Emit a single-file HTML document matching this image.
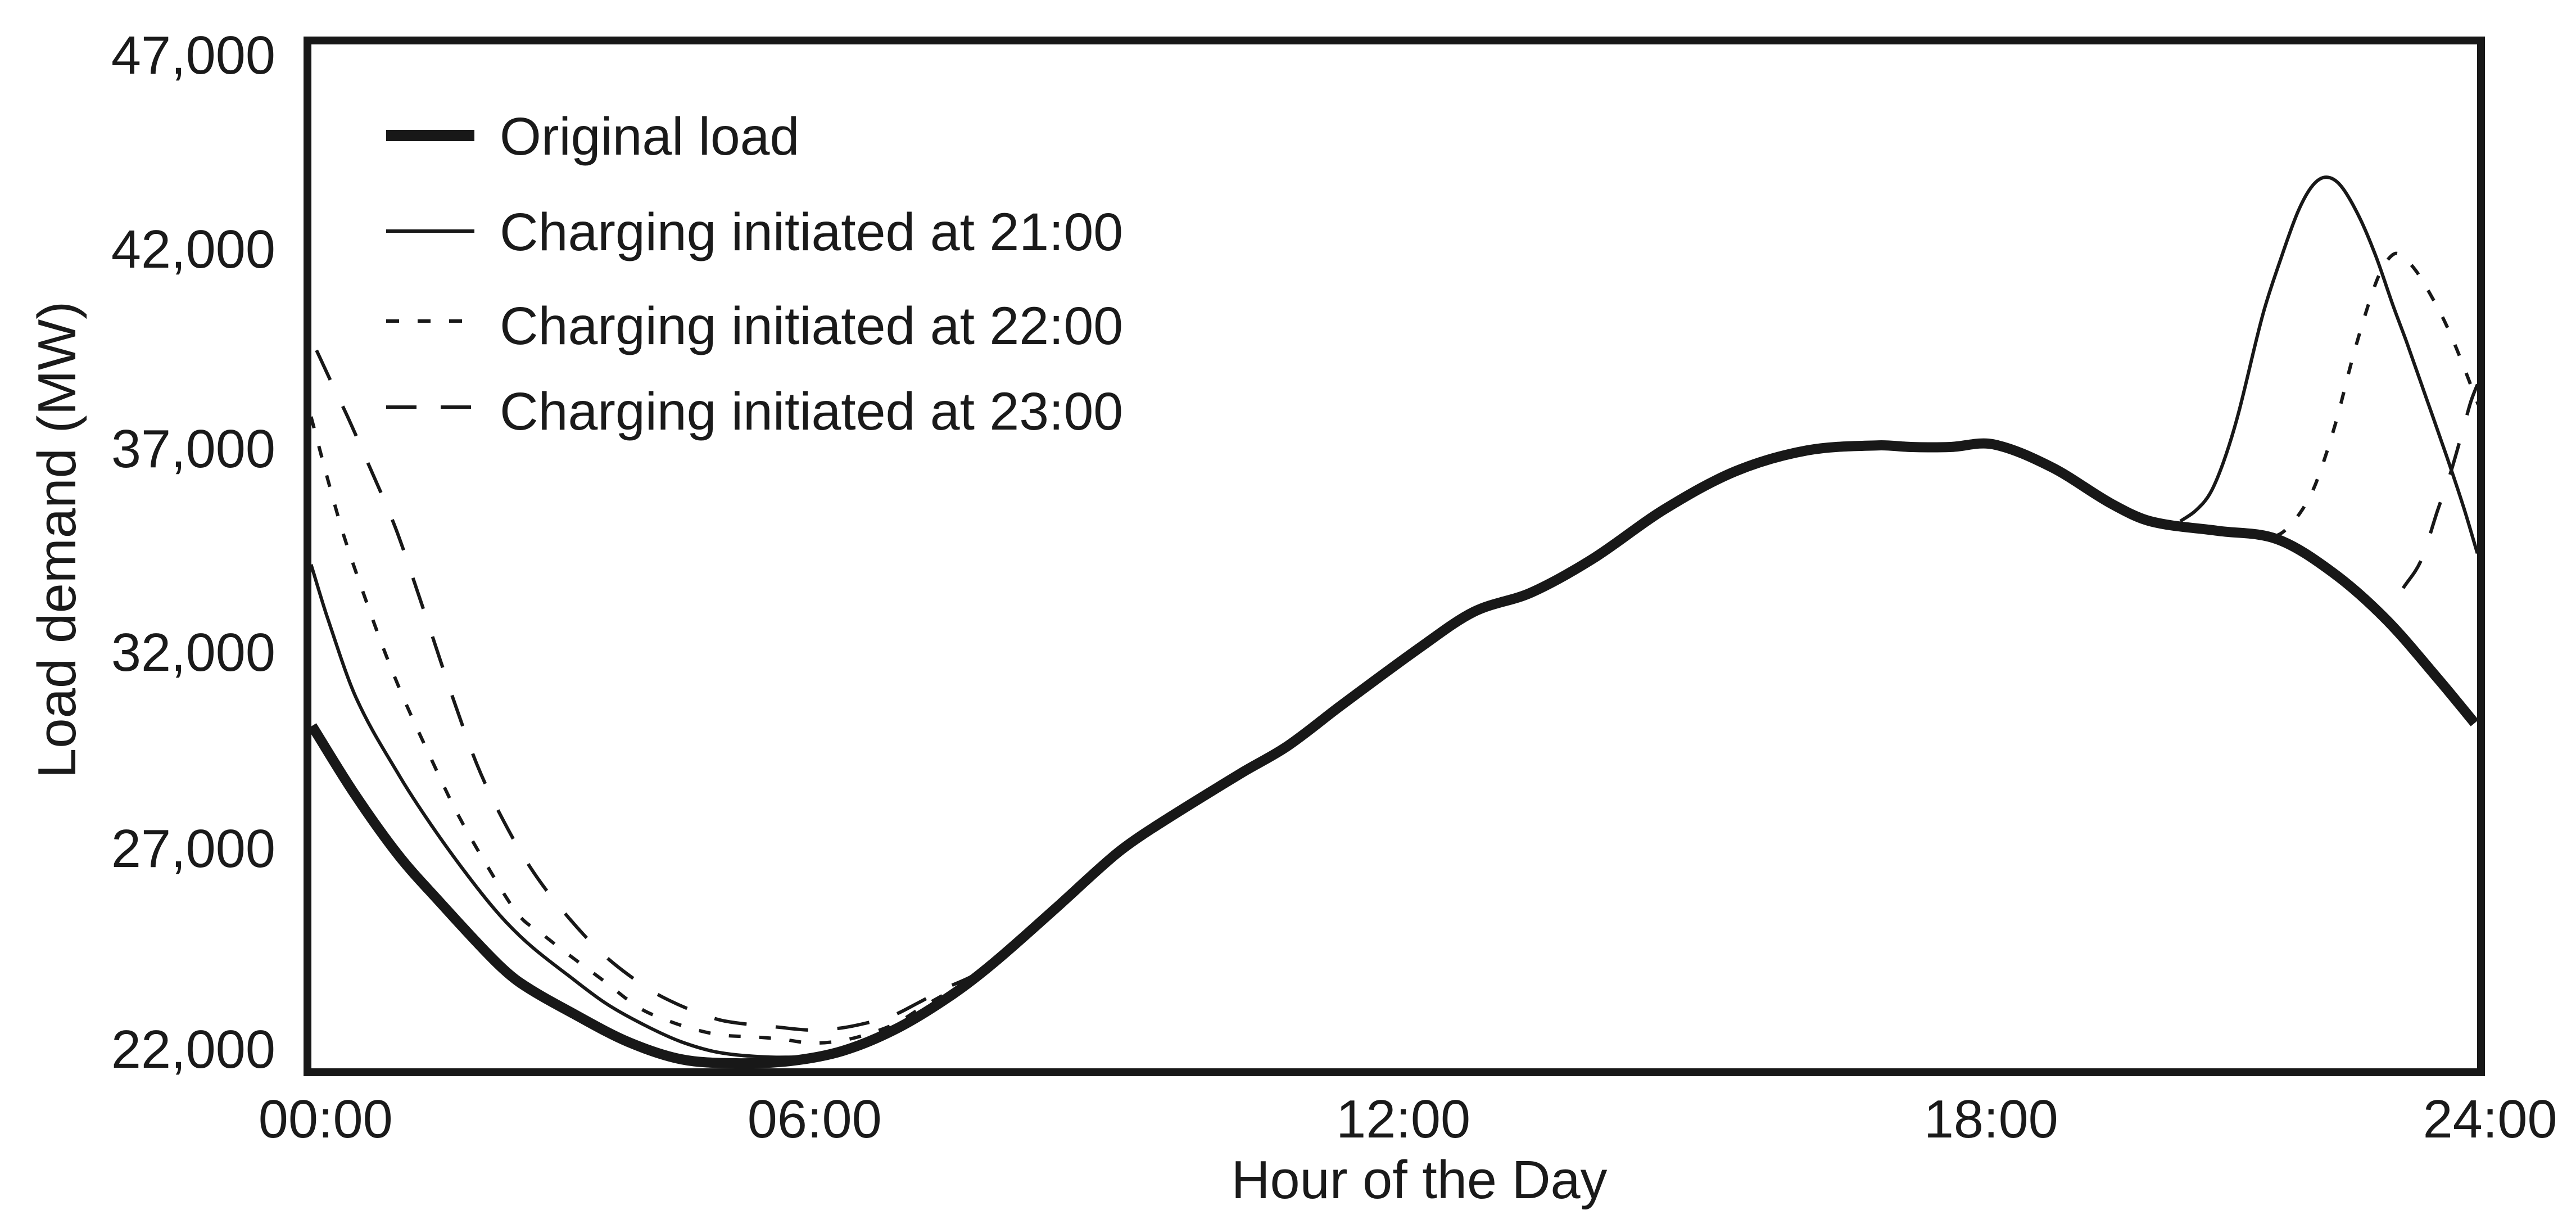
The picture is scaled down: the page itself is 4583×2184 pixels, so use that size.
<!DOCTYPE html>
<html lang="en">
<head>
<meta charset="utf-8">
<title>Load demand by hour of the day</title>
<style>
html,body{margin:0;padding:0;background:#fff;}
svg{display:block;}
text{font-family:"Liberation Sans",Arial,sans-serif;fill:#1a1a1a;}
</style>
</head>
<body>
<svg id="chart" xmlns="http://www.w3.org/2000/svg" width="4583" height="2184" viewBox="0 0 4583 2184">
  <rect x="0" y="0" width="4583" height="2184" fill="#ffffff"/>
  <g id="series-layer"></g>
  <rect x="547" y="72" width="3867" height="1835" fill="none" stroke="#181818" stroke-width="14"/>
  <g id="y-ticks"></g>
  <g id="x-ticks"></g>
  <text x="2525" y="2131" font-size="95.5" text-anchor="middle">Hour of the Day</text>
  <text transform="translate(134,960) rotate(-90)" font-size="96" text-anchor="middle">Load demand (MW)</text>
  <g>
    <g>
      <line x1="687" y1="241" x2="844" y2="241" stroke="#181818" stroke-width="20"/>
      <text x="889" y="275" font-size="95">Original load</text>
    </g>
    <g>
      <line x1="687" y1="411" x2="844" y2="411" stroke="#181818" stroke-width="6"/>
      <text x="889" y="445" font-size="95">Charging initiated at 21:00</text>
    </g>
    <g>
      <line x1="687" y1="571" x2="844" y2="571" stroke="#181818" stroke-width="6" stroke-dasharray="23 33"/>
      <text x="889" y="612" font-size="95">Charging initiated at 22:00</text>
    </g>
    <g>
      <line x1="687" y1="724" x2="844" y2="724" stroke="#181818" stroke-width="6" stroke-dasharray="54 43"/>
      <text x="889" y="764" font-size="95">Charging initiated at 23:00</text>
    </g>
  </g>
</svg>
<script>
const yTickValues = [22000, 27000, 32000, 37000, 42000, 47000];
const yTickPlacement = [22000, 27048, 31983, 37102, 42122, 47000];
const xTickLabels = ["00:00", "06:00", "12:00", "18:00", "24:00"];
const xTickHours = [0.20, 5.60, 12.10, 18.59, 24.10];

const originalHours = [0.05,0.52,1.01,1.46,2.05,2.35,2.95,3.54,4.13,4.73,5.33,5.91,6.51,7.11,7.58,8.25,8.92,9.32,10.31,10.82,11.41,12.29,12.88,13.51,14.19,14.98,15.77,16.56,17.35,17.71,18.14,18.61,19.26,19.92,20.35,21.09,21.75,22.37,22.96,23.54,23.93];
const originalLoad = [30116,28405,26850,25691,24248,23654,22863,22170,21731,21632,21689,21943,22509,23343,24163,25507,26878,27529,28929,29607,30625,32096,32987,33468,34316,35560,36522,37045,37172,37130,37130,37200,36621,35702,35263,35023,34811,33962,32775,31262,30187];

const charge21MorningHours = [0.04,0.22,0.54,1.02,1.37,1.76,2.12,2.45,2.89,3.30,3.72,4.13,4.55,5.09,5.62];
const charge21MorningLoad = [34175,32845,30809,28844,27614,26383,25365,24616,23824,23131,22594,22170,21901,21788,21800];
const charge21EveningHours = [20.68,20.85,21.01,21.16,21.32,21.59,21.79,21.98,22.14,22.29,22.45,22.65,22.84,23.03,23.18,23.39,23.62,23.81,23.96];
const charge21EveningLoad = [35263,35532,35970,36776,37964,40453,41867,43054,43705,43917,43705,42941,41923,40679,39760,38400,36900,35600,34457];

const charge22MorningHours = [0.04,0.22,0.40,0.62,0.85,1.07,1.35,1.64,1.97,2.33,2.59,2.86,3.26,3.66,3.96,4.28,4.58,4.91,5.23,5.56,5.89,6.21,6.51,6.81,7.14];
const charge22MorningLoad = [37893,36352,34910,33439,31997,30767,29367,27981,26652,25365,24885,24404,23725,23032,22721,22481,22339,22297,22240,22141,22198,22382,22650,23075,23499];
const charge22EveningHours = [21.73,21.83,22.02,22.18,22.39,22.59,22.76,22.88,22.98,23.08,23.27,23.46,23.62,23.77,23.97];
const charge22EveningLoad = [34881,35023,35532,36239,37695,39435,40736,41485,41867,41994,41598,40891,40184,39378,38190];

const charge23MorningHours = [0.10,0.29,0.46,0.64,0.97,1.24,1.45,1.64,1.87,2.12,2.45,2.80,3.25,3.71,3.98,4.31,4.61,5.21,5.56,5.86,6.13,6.45,6.75,7.04,7.34,7.46];
const charge23MorningLoad = [39562,38629,37809,36875,35108,33326,31884,30597,29155,27925,26596,25521,24404,23584,23230,22905,22693,22537,22467,22509,22622,22820,23159,23513,23824,24036];
const charge23EveningHours = [23.14,23.34,23.52,23.66,23.81,23.89,23.97];
const charge23EveningLoad = [33581,34288,35532,36451,37639,38289,38756];

const SVG_NS = "http://www.w3.org/2000/svg";
const xDomain = [0, 24];
const yDomain = [21406, 47354];
const plotLeft = 547, plotRight = 4414, plotTop = 72, plotBottom = 1907;

function xScale(hour) {
  return plotLeft + (hour - xDomain[0]) / (xDomain[1] - xDomain[0]) * (plotRight - plotLeft);
}
function yScale(load) {
  return plotBottom - (load - yDomain[0]) / (yDomain[1] - yDomain[0]) * (plotBottom - plotTop);
}
function smoothPath(hours, loads) {
  const pts = hours.map(function (h, i) { return [xScale(h), yScale(loads[i])]; });
  const n = pts.length;
  const slope = pts.map(function (p, i) {
    const a = pts[Math.max(i - 1, 0)];
    const b = pts[Math.min(i + 1, n - 1)];
    return (b[1] - a[1]) / (b[0] - a[0]);
  });
  let d = "M" + pts[0][0].toFixed(1) + " " + pts[0][1].toFixed(1);
  for (let i = 0; i < n - 1; i++) {
    const p1 = pts[i];
    const p2 = pts[i + 1];
    const dx = (p2[0] - p1[0]) / 3;
    d += "C" + (p1[0] + dx).toFixed(1) + " " + (p1[1] + slope[i] * dx).toFixed(1) + " " + (p2[0] - dx).toFixed(1) + " " + (p2[1] - slope[i + 1] * dx).toFixed(1) + " " + p2[0].toFixed(1) + " " + p2[1].toFixed(1);
  }
  return d;
}

const seriesLayer = document.getElementById("series-layer");
function drawSeries(name, hours, loads, width, dash) {
  const el = document.createElementNS(SVG_NS, "path");
  
  
  el.setAttribute("d", smoothPath(hours, loads));
  el.setAttribute("fill", "none");
  el.setAttribute("stroke", "#181818");
  el.setAttribute("stroke-width", width);
  if (dash) { el.setAttribute("stroke-dasharray", dash); }
  seriesLayer.appendChild(el);
}

drawSeries("series-charging-21-morning", charge21MorningHours, charge21MorningLoad, 6, null);
drawSeries("series-charging-21-evening", charge21EveningHours, charge21EveningLoad, 6, null);
drawSeries("series-charging-22-morning", charge22MorningHours, charge22MorningLoad, 6, "21 33");
drawSeries("series-charging-22-evening", charge22EveningHours, charge22EveningLoad, 6, "21 33");
drawSeries("series-charging-23-morning", charge23MorningHours, charge23MorningLoad, 6, "58 52");
drawSeries("series-charging-23-evening", charge23EveningHours, charge23EveningLoad, 6, "58 52");
drawSeries("series-original-load", originalHours, originalLoad, 18, null);

const yTickGroup = document.getElementById("y-ticks");
yTickValues.forEach(function (v, i) {
  const t = document.createElementNS(SVG_NS, "text");
  
  
  t.setAttribute("x", 490);
  t.setAttribute("y", yScale(yTickPlacement[i]) + 34);
  t.setAttribute("font-size", 95.5);
  t.setAttribute("text-anchor", "end");
  t.textContent = v.toLocaleString("en-US");
  yTickGroup.appendChild(t);
});

const xTickGroup = document.getElementById("x-ticks");
xTickLabels.forEach(function (label, i) {
  const t = document.createElementNS(SVG_NS, "text");
  
  
  t.setAttribute("x", xScale(xTickHours[i]));
  t.setAttribute("y", 2023);
  t.setAttribute("font-size", 95.5);
  t.setAttribute("text-anchor", "middle");
  t.textContent = label;
  xTickGroup.appendChild(t);
});
</script>
</body>
</html>
